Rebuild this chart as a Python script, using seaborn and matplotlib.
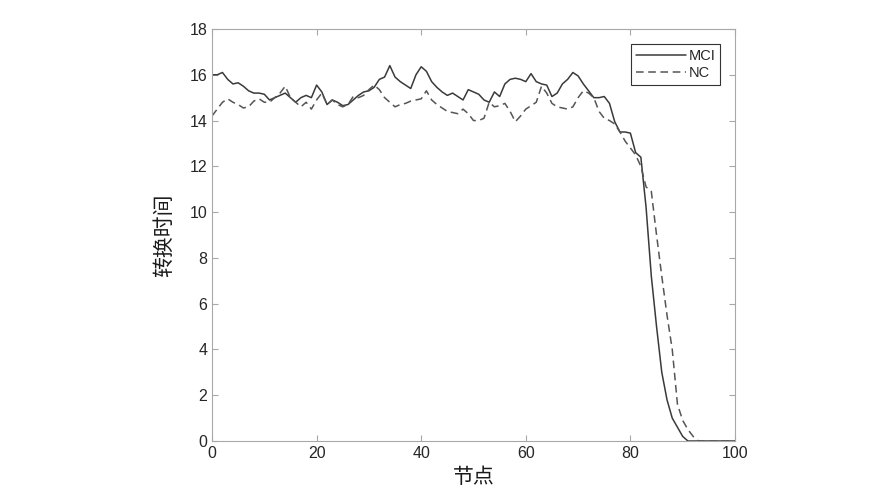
import matplotlib
matplotlib.use("Agg")
import matplotlib.pyplot as plt
import numpy as np
import pandas as pd
import seaborn as sns

# node index and transition time per group
nodes = list(range(0, 101))

mci = [16.0, 16.0, 16.1, 15.8, 15.6, 15.65, 15.5, 15.3, 15.2, 15.2,
       15.15, 14.9, 15.0, 15.1, 15.2, 15.0, 14.8, 15.0, 15.1, 15.0,
       15.55, 15.25, 14.7, 14.9, 14.8, 14.65, 14.7, 14.9, 15.1, 15.25,
       15.3, 15.45, 15.8, 15.9, 16.4, 15.9, 15.7, 15.55, 15.4, 16.0,
       16.35, 16.15, 15.7, 15.45, 15.25, 15.1, 15.2, 15.05, 14.9, 15.35,
       15.25, 15.15, 14.9, 14.8, 15.25, 15.05, 15.6, 15.8, 15.85, 15.8,
       15.7, 16.05, 15.7, 15.6, 15.55, 15.05, 15.2, 15.6, 15.8, 16.1,
       15.95, 15.6, 15.3, 15.0, 15.0, 15.05, 14.75, 13.95, 13.5, 13.5,
       13.45, 12.6, 12.4, 10.2, 7.2, 5.0, 3.0, 1.8, 1.0, 0.6,
       0.2, 0, 0, 0, 0, 0, 0, 0, 0, 0, 0]

nc = [14.2, 14.5, 14.8, 14.95, 14.8, 14.7, 14.55, 14.6, 14.85, 14.95,
      14.8, 14.8, 15.0, 15.2, 15.5, 15.0, 14.8, 14.6, 14.8, 14.5,
      14.9, 15.2, 14.7, 14.9, 14.7, 14.6, 14.7, 15.05, 15.0, 15.1,
      15.35, 15.55, 15.35, 15.0, 14.8, 14.6, 14.7, 14.75, 14.85, 14.9,
      14.95, 15.3, 14.9, 14.7, 14.55, 14.4, 14.35, 14.3, 14.5, 14.3,
      14.0, 14.0, 14.1, 14.8, 14.6, 14.65, 14.75, 14.4, 13.95, 14.2,
      14.5, 14.65, 14.8, 15.5, 15.2, 14.75, 14.6, 14.55, 14.5, 14.6,
      15.0, 15.3, 15.2, 15.0, 14.4, 14.1, 14.0, 13.85, 13.5, 13.1,
      12.8, 12.5, 12.0, 11.1, 10.9, 9.0, 7.2, 5.5, 4.0, 1.6,
      0.9, 0.5, 0.2, 0, 0, 0, 0, 0, 0, 0, 0]

x_ticks = [0, 20, 40, 60, 80, 100]
y_ticks = [0, 2, 4, 6, 8, 10, 12, 14, 16, 18]

sns.set_theme(style="ticks")
plt.rcParams["font.family"] = ["Liberation Sans", "Noto Sans CJK SC", "DejaVu Sans"]

fig = plt.figure(figsize=(8.76, 5.04), dpi=100)
ax = fig.add_axes([212 / 876, 1 - 441 / 504, 523 / 876, 412 / 504])

sns.lineplot(x=nodes, y=mci, ax=ax, color="#3a3a3a", linewidth=1.1, label="MCI")
sns.lineplot(x=nodes, y=nc, ax=ax, color="#555555", linewidth=1.1,
             linestyle=(0, (5, 3)), label="NC")

ax.set_xlim(0, 100)
ax.set_ylim(0, 18)
ax.set_xticks(x_ticks)
ax.set_yticks(y_ticks)

for s in ax.spines.values():
    s.set_visible(True)
    s.set_color("#a8a8a8")
    s.set_linewidth(0.8)
ax.tick_params(direction="in", length=4, width=0.8, color="#a8a8a8",
               labelsize=11.5, labelcolor="#262626", top=True, right=True)

cjk = ["Noto Sans CJK SC", "DejaVu Sans"]
ax.set_xlabel("节点", fontsize=15, family=cjk, color="#1a1a1a", labelpad=4)
ax.set_ylabel("转换时间", fontsize=15, family=cjk, color="#1a1a1a", labelpad=10)

leg = ax.legend(loc="upper right", fontsize=10.5, frameon=True, fancybox=False,
                framealpha=1, edgecolor="#333333", handlelength=3.4,
                borderaxespad=1.0, handletextpad=0.2, borderpad=0.35,
                labelspacing=0.2)
leg.get_frame().set_linewidth(0.8)

fig.savefig("out.png", dpi=100)
